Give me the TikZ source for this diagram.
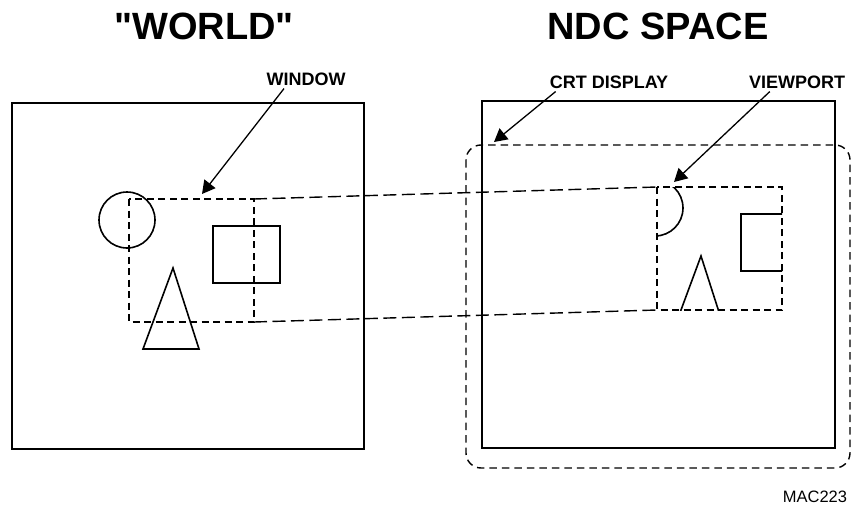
\documentclass[tikz,border=0pt]{standalone}
\usepackage{fontspec}
\setmainfont{Liberation Sans}
\newfontfamily\qfont{Liberation Sans}[Ligatures=TeXOff]
\usetikzlibrary{arrows.meta}
\begin{document}
\begin{tikzpicture}[x=1pt,y=-1pt,
  solidline/.style={line width=1.6pt},
  shortdash/.style={line width=1.4pt,dash pattern=on 7pt off 4.5pt},
  longdash/.style={line width=1.4pt,dash pattern=on 13pt off 5.5pt},
  crtdash/.style={line width=1.4pt,dash pattern=on 7.5pt off 5pt},
  arr/.style={line width=1.3pt,-{Triangle[length=13pt,width=14pt]}},
  title/.style={font=\bfseries\fontsize{38}{40}\selectfont,inner sep=0pt},
  lab/.style={font=\bfseries\fontsize{18}{20}\selectfont,inner sep=0pt},
  scene/.pic={
    \draw[solidline] (127,220) circle[radius=28];
    \draw[solidline] (213,226) rectangle (280,283);
    \draw[solidline] (173,268) -- (199,349) -- (143,349) -- cycle;
  }]
\useasboundingbox (0,0) rectangle (852,506);

% titles
\node[title] (tworld) at (204,26) {\qfont\bfseries "WORLD"};
\node[title] (tndc) at (658,26) {NDC SPACE};

% world box
\draw[solidline] (12,103) rectangle (364,449);
\pic {scene};

% window
\draw[shortdash] (129,199) rectangle (254,322);
\coordinate (wtr) at (254,199);
\coordinate (wbr) at (254,322);

% CRT display
\draw[solidline] (482,101) rectangle (835,448);
\draw[crtdash,rounded corners=15pt] (466,145) rectangle (850,468);

% viewport
\coordinate (vtl) at (657,187);
\coordinate (vbl) at (657,310);
\draw[shortdash] (vtl) rectangle (782,310);
\begin{scope}
  \clip (657,187) rectangle (782,310);
  \pic[shift={(528,-12)}] {scene};
\end{scope}

% projection lines
\draw[longdash] (wtr) -- (vtl);
\draw[longdash] (wbr) -- (vbl);

% labels and arrows
\node[lab] (win) at (306,79) {WINDOW};
\node[lab] (crt) at (609,82) {CRT DISPLAY};
\node[lab] (vp) at (797,82) {VIEWPORT};
\coordinate (wintip) at (202,194);
\coordinate (crttip) at (494,142);
\coordinate (vptip) at (674,182);
\draw[arr] ([xshift=-22pt,yshift=-3pt]win.south) -- (wintip);
\draw[arr] ([xshift=6pt,yshift=-3pt]crt.south west) -- (crttip);
\draw[arr] ([xshift=21pt,yshift=-3pt]vp.south west) -- (vptip);

\node[font=\fontsize{16.5}{18}\selectfont,inner sep=0pt] (mac) at (815,497) {MAC223};
\end{tikzpicture}
\end{document}
